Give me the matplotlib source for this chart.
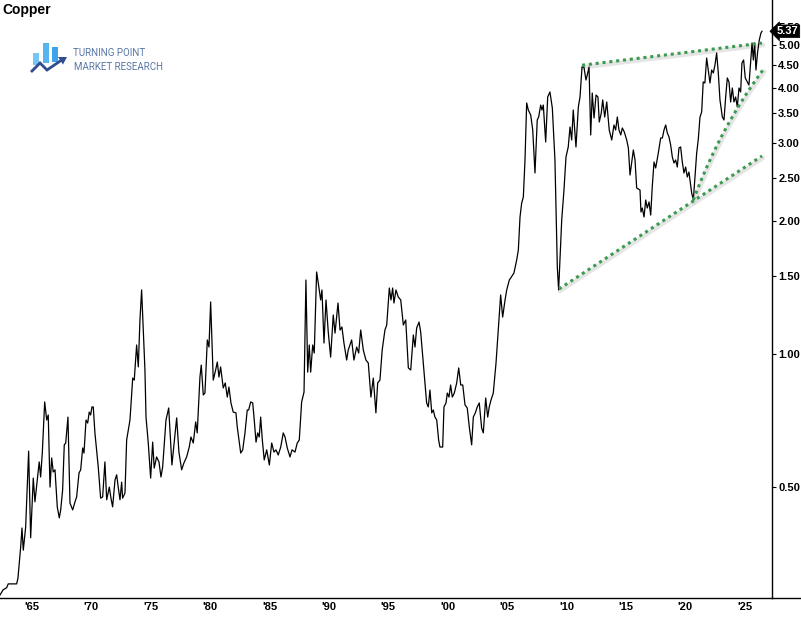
import matplotlib
matplotlib.use("Agg")
import matplotlib.pyplot as plt
import matplotlib.ticker as mticker
import matplotlib.transforms as mtransforms
from matplotlib.patches import Rectangle, Polygon
import numpy as np

# monthly-ish copper price, $/lb
years = [
    1961.81, 1961.95, 1962.08, 1962.37, 1962.50, 1963.21, 1963.32, 1963.55, 1963.66, 1963.77,
    1963.97, 1964.22, 1964.39, 1964.61, 1964.75, 1965.11, 1965.23, 1965.37, 1965.57, 1965.74,
    1965.87, 1966.02, 1966.16, 1966.29, 1966.44, 1966.63, 1966.80, 1966.92, 1967.08, 1967.22,
    1967.34, 1967.53, 1967.70, 1967.93, 1968.09, 1968.26, 1968.46, 1968.60, 1968.77, 1968.88,
    1969.05, 1969.19, 1969.32, 1969.44, 1969.55, 1969.66, 1969.80, 1970.08, 1970.28, 1970.45,
    1970.64, 1970.79, 1971.01, 1971.15, 1971.29, 1971.49, 1971.63, 1971.76, 1971.91, 1972.05,
    1972.13, 1972.33, 1972.47, 1972.75, 1972.98, 1973.11, 1973.31, 1973.45, 1973.59, 1973.73,
    1974.01, 1974.10, 1974.29, 1974.49, 1974.66, 1974.79, 1974.99, 1975.19, 1975.36, 1975.50,
    1975.78, 1976.01, 1976.28, 1976.68, 1976.87, 1977.10, 1977.29, 1977.52, 1977.74, 1977.88,
    1978.08, 1978.28, 1978.41, 1978.64, 1978.75, 1978.92, 1979.06, 1979.26, 1979.40, 1979.54,
    1979.76, 1979.96, 1980.10, 1980.24, 1980.38, 1980.60, 1980.77, 1980.94, 1981.08, 1981.25,
    1981.44, 1981.67, 1981.78, 1982.07, 1982.24, 1982.43, 1982.62, 1982.74, 1982.91, 1983.08,
    1983.21, 1983.36, 1983.50, 1983.63, 1983.75, 1983.89, 1984.05, 1984.26, 1984.48, 1984.68,
    1984.87, 1985.04, 1985.23, 1985.44, 1985.65, 1985.80, 1985.99, 1986.22, 1986.39, 1986.64,
    1986.83, 1987.00, 1987.20, 1987.40, 1987.56, 1987.71, 1987.84, 1987.96, 1988.13, 1988.26,
    1988.46, 1988.60, 1988.80, 1988.91, 1989.08, 1989.25, 1989.44, 1989.64, 1989.86, 1990.01,
    1990.26, 1990.43, 1990.59, 1990.76, 1990.99, 1991.12, 1991.41, 1991.60, 1991.83, 1992.00,
    1992.17, 1992.39, 1992.61, 1992.81, 1993.03, 1993.23, 1993.45, 1993.60, 1993.79, 1993.98,
    1994.21, 1994.36, 1994.58, 1994.72, 1994.86, 1994.97, 1995.14, 1995.33, 1995.54, 1995.76,
    1995.96, 1996.18, 1996.38, 1996.60, 1996.74, 1996.88, 1997.08, 1997.22, 1997.44, 1997.58,
    1997.72, 1997.86, 1998.00, 1998.15, 1998.28, 1998.42, 1998.57, 1998.73, 1998.84, 1999.07,
    1999.18, 1999.35, 1999.46, 1999.60, 1999.74, 1999.88, 2000.05, 2000.25, 2000.42, 2000.59,
    2000.76, 2000.95, 2001.14, 2001.31, 2001.51, 2001.65, 2001.82, 2001.98, 2002.15, 2002.35,
    2002.49, 2002.69, 2002.86, 2002.99, 2003.14, 2003.33, 2003.56, 2003.75, 2003.95, 2004.12,
    2004.32, 2004.46, 2004.68, 2004.85, 2005.07, 2005.30, 2005.44, 2005.58, 2005.72, 2005.86,
    2006.00, 2006.14, 2006.28, 2006.48, 2006.65, 2006.84, 2007.03, 2007.15, 2007.32, 2007.43,
    2007.54, 2007.74, 2007.91, 2008.10, 2008.30, 2008.52, 2008.72, 2008.83, 2008.94, 2009.09,
    2009.28, 2009.45, 2009.64, 2009.79, 2009.93, 2010.06, 2010.29, 2010.49, 2010.63, 2010.80,
    2010.96, 2011.13, 2011.24, 2011.39, 2011.53, 2011.66, 2011.81, 2011.98, 2012.14, 2012.25,
    2012.42, 2012.54, 2012.71, 2012.88, 2013.09, 2013.30, 2013.49, 2013.63, 2013.77, 2013.91,
    2014.06, 2014.19, 2014.36, 2014.56, 2014.70, 2014.84, 2015.01, 2015.12, 2015.26, 2015.40,
    2015.68, 2015.76, 2015.87, 2016.02, 2016.16, 2016.29, 2016.44, 2016.58, 2016.71, 2016.86,
    2017.00, 2017.22, 2017.42, 2017.56, 2017.70, 2017.84, 2017.98, 2018.12, 2018.26, 2018.40,
    2018.54, 2018.68, 2018.82, 2018.96, 2019.10, 2019.24, 2019.38, 2019.52, 2019.66, 2019.80,
    2020.03, 2020.17, 2020.31, 2020.45, 2020.58, 2020.73, 2020.87, 2021.00, 2021.14, 2021.29,
    2021.42, 2021.57, 2021.71, 2021.85, 2021.99, 2022.13, 2022.27, 2022.41, 2022.61, 2022.75,
    2022.89, 2023.03, 2023.17, 2023.31, 2023.45, 2023.59, 2023.73, 2023.87, 2024.01, 2024.15,
    2024.26, 2024.40, 2024.54, 2024.71, 2024.85, 2024.99, 2025.11, 2025.22, 2025.33, 2025.44,
    2025.58, 2025.72, 2025.86, 2025.95,
]
prices = [
    0.285, 0.289, 0.293, 0.296, 0.302, 0.302, 0.311, 0.366, 0.404, 0.360,
    0.406, 0.603, 0.384, 0.524, 0.463, 0.570, 0.527, 0.597, 0.779, 0.709,
    0.728, 0.500, 0.582, 0.541, 0.547, 0.451, 0.426, 0.444, 0.492, 0.623,
    0.629, 0.720, 0.460, 0.444, 0.460, 0.475, 0.538, 0.547, 0.613, 0.597,
    0.709, 0.698, 0.739, 0.728, 0.759, 0.759, 0.663, 0.555, 0.472, 0.475,
    0.570, 0.468, 0.500, 0.472, 0.451, 0.519, 0.533, 0.500, 0.468, 0.513,
    0.472, 0.485, 0.639, 0.709, 0.882, 0.873, 1.048, 0.935, 1.194, 1.396,
    0.920, 0.720, 0.629, 0.524, 0.632, 0.552, 0.585, 0.570, 0.527, 0.555,
    0.709, 0.755, 0.561, 0.717, 0.600, 0.547, 0.567, 0.585, 0.616, 0.649,
    0.629, 0.702, 0.663, 0.887, 0.944, 0.808, 0.816, 1.076, 1.037, 1.311,
    0.873, 0.920, 0.959, 0.887, 0.935, 0.838, 0.860, 0.799, 0.842, 0.775,
    0.739, 0.736, 0.684, 0.597, 0.607, 0.663, 0.747, 0.747, 0.779, 0.775,
    0.709, 0.632, 0.663, 0.649, 0.720, 0.639, 0.576, 0.607, 0.561, 0.629,
    0.600, 0.607, 0.591, 0.616, 0.663, 0.649, 0.613, 0.585, 0.607, 0.600,
    0.629, 0.639, 0.779, 0.820, 1.470, 0.910, 1.048, 0.910, 1.048, 1.005,
    1.533, 1.447, 1.325, 1.396, 1.059, 1.325, 1.121, 0.984, 1.225, 1.115,
    1.304, 1.133, 1.151, 1.059, 0.969, 1.021, 1.076, 0.969, 1.037, 1.005,
    1.133, 1.021, 0.969, 0.954, 0.799, 0.882, 0.736, 0.860, 0.873, 1.021,
    1.133, 1.163, 1.410, 1.325, 1.410, 1.304, 1.396, 1.346, 1.325, 1.163,
    1.194, 0.930, 0.920, 1.104, 1.037, 1.145, 1.181, 1.121, 0.954, 0.860,
    0.775, 0.759, 0.829, 0.736, 0.747, 0.720, 0.709, 0.639, 0.616, 0.616,
    0.759, 0.775, 0.816, 0.799, 0.851, 0.799, 0.816, 0.860, 0.930, 0.851,
    0.851, 0.767, 0.755, 0.684, 0.623, 0.720, 0.736, 0.759, 0.775, 0.680,
    0.663, 0.795, 0.720, 0.759, 0.787, 0.816, 0.954, 1.133, 1.360, 1.212,
    1.325, 1.396, 1.470, 1.493, 1.525, 1.632, 1.719, 2.041, 2.195, 2.265,
    2.747, 3.697, 3.563, 3.472, 3.211, 2.567, 3.383, 3.436, 3.657, 3.563,
    3.657, 3.017, 3.814, 3.915, 3.601, 2.747, 1.573, 1.396, 1.632, 2.009,
    2.349, 2.790, 2.940, 3.262, 3.048, 3.563, 2.940, 3.620, 3.814, 4.458,
    4.458, 4.166, 4.277, 4.458, 3.129, 3.893, 3.418, 3.853, 3.814, 3.348,
    3.508, 3.755, 3.436, 3.716, 3.211, 3.048, 3.296, 3.211, 3.436, 3.211,
    3.129, 3.245, 3.178, 3.048, 2.924, 2.540, 2.747, 2.894, 2.747, 2.374,
    2.349, 2.095, 2.139, 2.041, 2.230, 2.139, 2.207, 2.062, 2.386, 2.718,
    2.635, 2.849, 3.080, 3.080, 3.211, 3.296, 3.162, 3.096, 2.970, 2.790,
    2.704, 2.747, 2.648, 2.924, 2.940, 2.718, 2.567, 2.648, 2.514, 2.580,
    2.313, 2.230, 2.514, 2.849, 3.048, 3.436, 3.527, 4.124, 4.102, 4.672,
    4.389, 4.102, 4.389, 4.322, 4.505, 4.795, 4.322, 3.755, 3.436, 3.383,
    3.814, 4.211, 4.124, 3.716, 3.997, 3.716, 3.814, 3.620, 3.997, 3.915,
    4.552, 4.624, 4.211, 4.124, 4.059, 4.552, 5.053, 4.624, 5.053, 4.389,
    4.821, 5.131, 5.322, 5.37,
]

# trend lines: (year, price) end points
top_line = [(2010.80, 4.50), (2025.95, 5.05)]
low_line = [(2008.86, 1.403), (2025.95, 2.805)]
steep_line = [(2020.17, 2.23), (2026.03, 4.39)]

y_ticks = [0.5, 1.0, 1.5, 2.0, 2.5, 3.0, 3.5, 4.0, 4.5, 5.0, 5.5]
x_ticks = list(range(1965, 2026, 5))
x_labels = ["'%02d" % (y % 100) for y in x_ticks]
last_price = prices[-1]

GREEN = '#3b9a50'
SHADOW = '#d4d4d4'

fig = plt.figure(figsize=(8.01, 6.17), dpi=100)
ax = fig.add_axes([0.0, 19 / 617, 772 / 801, 598 / 617])

ax.plot(years, prices, color='black', lw=0.9, zorder=3)

shadow = mtransforms.offset_copy(ax.transData, fig=fig, x=1.0, y=-2.0, units='dots')
for (x0, y0), (x1, y1) in [top_line, low_line]:
    ax.plot([x0, x1], [y0, y1], color=SHADOW, lw=3.2, alpha=0.6,
            transform=shadow, zorder=2, solid_capstyle='round')
    ax.plot([x0, x1], [y0, y1], color=GREEN, lw=2.2, ls=(0, (1, 1.25)),
            dash_capstyle='butt', zorder=4)

# steep line is straight in price, so it bends on the log axis
(sx0, sy0), (sx1, sy1) = steep_line
sx = np.linspace(sx0, sx1, 40)
sy = sy0 + (sy1 - sy0) * (sx - sx0) / (sx1 - sx0)
ax.plot(sx, sy, color=SHADOW, lw=3.2, alpha=0.6, transform=shadow, zorder=2)
ax.plot(sx, sy, color=GREEN, lw=2.2, ls=(0, (1, 1.25)), dash_capstyle='butt', zorder=4)

ax.set_yscale('log')
ax.set_xlim(1961.81, 2026.79)
ax.set_ylim(0.2806, 6.32)
ax.yaxis.set_major_locator(mticker.FixedLocator(y_ticks))
ax.yaxis.set_minor_locator(mticker.NullLocator())
ax.yaxis.set_major_formatter(mticker.FormatStrFormatter('%.2f'))
ax.yaxis.tick_right()
ax.set_xticks(x_ticks)
ax.set_xticklabels(x_labels)
ax.xaxis.set_minor_locator(mticker.NullLocator())

for sp in ['top', 'left']:
    ax.spines[sp].set_visible(False)
ax.spines['right'].set_linewidth(1.0)
ax.spines['bottom'].set_linewidth(1.0)

ax.tick_params(axis='y', direction='out', length=3, width=0.8, pad=1.5,
               labelsize=8, colors='black')
ax.tick_params(axis='x', length=0, pad=3, labelsize=8)
for lab in ax.get_yticklabels() + ax.get_xticklabels():
    lab.set_fontfamily('Liberation Sans')
    lab.set_fontweight('bold')
shift = mtransforms.ScaledTranslation(-6 / 100, 0, fig.dpi_scale_trans)
for lab in ax.get_xticklabels():
    lab.set_transform(lab.get_transform() + shift)

# last price tag on the axis
tag_tr = mtransforms.blended_transform_factory(ax.transAxes, ax.transData)
ax.text(1.006, last_price, '%.2f' % last_price, transform=tag_tr, ha='left', va='center',
        fontsize=8, fontweight='bold', family='Liberation Sans', color='white', zorder=10,
        bbox=dict(boxstyle='larrow,pad=0.12', fc='black', ec='black', lw=0.5))

# overlay in pixel units for the title, logo and the bottom rule
ov = fig.add_axes([0, 0, 1, 1], facecolor='none')
ov.set_xlim(0, 801)
ov.set_ylim(617, 0)
ov.axis('off')
ov.plot([772, 801], [598, 598], color='black', lw=1.0)
ov.text(2, 10, 'Copper', fontsize=10, fontweight='bold', family='Liberation Sans',
        ha='left', va='center')

for (bx, by, bh, c) in [(33, 53, 12, '#74c6f4'), (43, 43, 20, '#56b4ef'), (52, 47, 15, '#3ea3ea')]:
    ov.add_patch(Rectangle((bx, by), 5.5, bh, fc=c, ec='none'))
ov.plot([31, 40, 47, 61], [72, 63, 70, 60.5], color='#2f4d8f', lw=2.0,
        solid_joinstyle='miter', solid_capstyle='butt')
ov.add_patch(Polygon([[58, 57], [67, 57], [63, 64.5]], closed=True, fc='#2f4d8f', ec='none'))
ov.text(73, 53.5, 'TURNING POINT', fontsize=7, family='Roboto', color='#5876a6',
        ha='left', va='center')
ov.text(73.5, 66.5, 'MARKET RESEARCH', fontsize=7, family='Roboto', color='#5876a6',
        ha='left', va='center')

fig.savefig('out.png', dpi=100)
